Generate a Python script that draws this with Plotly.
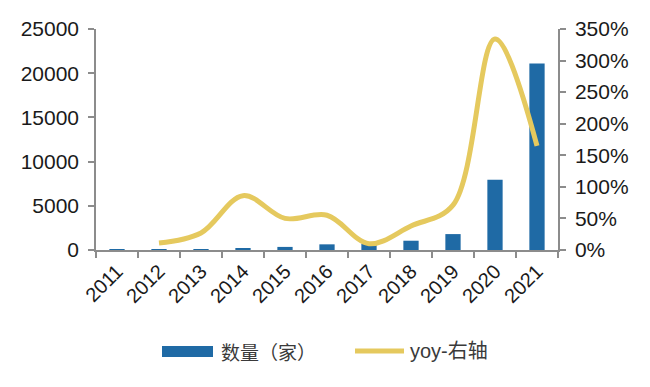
import plotly.graph_objects as go

years = ["2011", "2012", "2013", "2014", "2015", "2016", "2017", "2018", "2019", "2020", "2021"]
counts = [10, 12, 15, 210, 350, 640, 700, 1050, 1800, 7950, 21100]
yoy_years = ["2012", "2013", "2014", "2015", "2016", "2017", "2018", "2019", "2020", "2021"]
yoy_pct = [11, 27, 86, 50, 55, 10, 38, 71, 334, 165]
left_ticks = [0, 5000, 10000, 15000, 20000, 25000]
right_ticks = [0, 50, 100, 150, 200, 250, 300, 350]

BAR = "#1f6aa5"
LINE = "#e5c95e"
AX = "#8c8c8c"
TXT = "#1a1a1a"
FONT = "Liberation Sans, Arial, Noto Sans CJK SC"

fig = go.Figure()
fig.add_trace(go.Bar(x=years, y=counts, marker=dict(color=BAR, line=dict(width=0)),
                     name="数量（家）", showlegend=False))
fig.add_trace(go.Scatter(x=yoy_years, y=yoy_pct, yaxis="y2", mode="lines",
                         line=dict(color=LINE, width=5, shape="spline", smoothing=1.0),
                         name="yoy-右轴", showlegend=False))

# page body has an 8px offset; plot area target in window: x 96..558, y 29..250
fig.update_layout(
    width=650, height=387,
    margin=dict(l=88, r=100, t=21, b=145),
    paper_bgcolor="white", plot_bgcolor="white",
    bargap=0.636,
    font=dict(family=FONT, color=TXT),
    xaxis=dict(type="category", categoryorder="array", categoryarray=years,
               range=[-0.5, 10.5], tickson="boundaries", ticks="outside", ticklen=6,
               tickcolor=AX, tickwidth=1.5, showline=True, linecolor=AX, linewidth=1.5,
               tickangle=-45, tickfont=dict(size=20, family=FONT, color=TXT),
               showgrid=False, zeroline=False, automargin=False),
    yaxis=dict(range=[0, 25000], tickvals=left_ticks, ticktext=[str(v) for v in left_ticks],
               ticks="outside", ticklen=6, tickcolor=AX, tickwidth=1.5, ticklabelstandoff=5,
               showline=True, linecolor=AX, linewidth=1.5, showgrid=False, zeroline=False,
               tickfont=dict(size=21, family=FONT, color=TXT), automargin=False),
    yaxis2=dict(range=[0, 350], overlaying="y", side="right", tickvals=right_ticks,
                ticktext=[f"{v}%" for v in right_ticks],
                ticks="outside", ticklen=6, tickcolor=AX, tickwidth=1.5, ticklabelstandoff=5,
                showline=True, linecolor=AX, linewidth=1.5, showgrid=False, zeroline=False,
                tickfont=dict(size=21, family=FONT, color=TXT), automargin=False),
    showlegend=False,
)

# manual legend, positions relative to plot area (x 96..558, y 29..250 in window)
def px(xp):
    return (xp - 96) / 462.0

def py(yp):
    return (250 - yp) / 221.0

fig.add_shape(type="rect", xref="paper", yref="paper",
              x0=px(162), x1=px(213), y0=py(357), y1=py(346),
              fillcolor=BAR, line=dict(width=0))
fig.add_shape(type="line", xref="paper", yref="paper",
              x0=px(355), x1=px(404), y0=py(351), y1=py(351),
              line=dict(color=LINE, width=5))
fig.add_annotation(xref="paper", yref="paper", x=px(219), y=py(351), text="数量（家）",
                   showarrow=False, xanchor="left", yanchor="middle",
                   font=dict(size=19, family="Noto Sans CJK SC", color="#3a3a3a"))
fig.add_annotation(xref="paper", yref="paper", x=px(408), y=py(351), text="yoy-右轴",
                   showarrow=False, xanchor="left", yanchor="middle",
                   font=dict(size=20, family=FONT, color="#3a3a3a"))

fig.write_html("out.html")
